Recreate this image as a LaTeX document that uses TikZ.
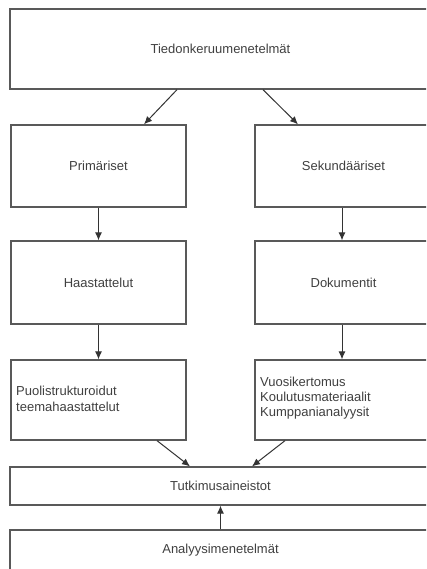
\documentclass[tikz,border=0pt]{standalone}
\usepackage{fontspec}
\setmainfont{Liberation Sans}
\usetikzlibrary{arrows.meta}
\begin{document}
\begin{tikzpicture}[x=1pt,y=-1pt,
  box/.style={draw=black!65, line width=1.3pt, rectangle, inner sep=0pt, fill=white,
    font=\fontsize{13}{15}\selectfont, text=black!75},
  arr/.style={draw=black!80, line width=1pt, -{Latex[length=8pt,width=7pt]}}]
\useasboundingbox (0,0) rectangle (426,569);
\fill[white] (0,0) rectangle (426,569);
\clip (0,0) rectangle (426,569);
\node[box, minimum width=421pt, minimum height=80pt] (top) at (220.5,49) {Tiedonkeruumenetelmät};
\node[box, minimum width=175pt, minimum height=82pt] (prim) at (98.5,166) {Primäriset};
\node[box, minimum width=177pt, minimum height=82pt] (sek) at (343.5,166) {Sekundääriset};
\node[box, minimum width=175pt, minimum height=83pt] (haas) at (98.5,282.5) {Haastattelut};
\node[box, minimum width=177pt, minimum height=83pt] (dok) at (343.5,282.5) {Dokumentit};
\node[box, minimum width=175pt, minimum height=80pt] (puol) at (98.5,400) {};
\node[anchor=west, align=left, font=\fontsize{13}{16}\selectfont, text=black!75, inner sep=0pt] (puoltxt) at (16,399) {Puolistrukturoidut\\teemahaastattelut};
\node[box, minimum width=177pt, minimum height=80pt] (vuos) at (343.5,400) {};
\node[anchor=west, align=left, font=\fontsize{13}{15}\selectfont, text=black!75, inner sep=0pt] (vuostxt) at (260,398) {Vuosikertomus\\Koulutusmateriaalit\\Kumppanianalyysit};
\node[box, minimum width=421pt, minimum height=38pt] (tutk) at (220.5,486) {Tutkimusaineistot};
\node[box, minimum width=421pt, minimum height=40pt] (anal) at (220.5,550) {Analyysimenetelmät};
\draw[arr] ([xshift=-43.5pt]top.south) -- ([xshift=45.5pt]prim.north);
\draw[arr] ([xshift=42.5pt]top.south) -- ([xshift=-45.5pt]sek.north);
\draw[arr] (prim) -- (haas);
\draw[arr] ([xshift=-1.5pt]sek.south) -- ([xshift=-1.5pt]dok.north);
\draw[arr] (haas) -- (puol);
\draw[arr] ([xshift=-1.5pt]dok.south) -- ([xshift=-1.5pt]vuos.north);
\draw[arr] ([xshift=58.5pt]puol.south) -- ([xshift=-30.5pt]tutk.north);
\draw[arr] ([xshift=-58.5pt]vuos.south) -- ([xshift=31.5pt]tutk.north);
\draw[arr] (anal) -- (tutk);
\end{tikzpicture}
\end{document}
